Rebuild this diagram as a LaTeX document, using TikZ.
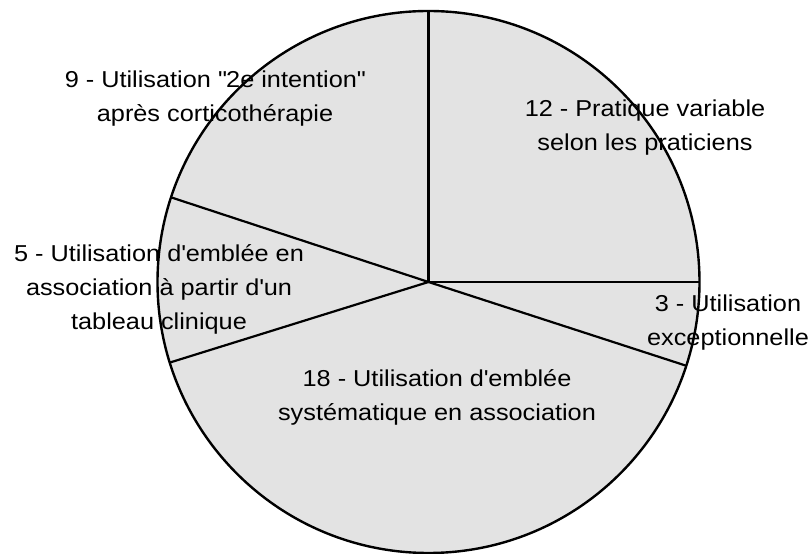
\documentclass[tikz,border=0pt]{standalone}
\usepackage{fontspec}
\setmainfont[FakeStretch=1.1]{Liberation Sans}
\usepackage{tikz}

\begin{document}
\begin{tikzpicture}[x=1pt,y=1pt,
        part/.style={font=\fontsize{23}{34}\selectfont, align=center, inner sep=0pt, anchor=base}]
        \useasboundingbox (0,0) rectangle (812,554);
        \coordinate (c) at (428.5,272);
        \fill[black!11] (c) circle (271);
        \draw[line width=2.2] (c) -- ++(90:271);
        \draw[line width=2.2] (c) -- ++(0:271);
        \draw[line width=2.2] (c) -- ++(-18:271);
        \draw[line width=2.2] (c) -- ++(197.3:271);
        \draw[line width=2.2] (c) -- ++(161.8:271);
        \draw[line width=2.4] (c) circle (271);
        \node[part] (pratique) at (645,403.5) {12 - Pratique variable\\selon les praticiens};
        \node[part] (exception) at (728,208) {3 - Utilisation\\exceptionnelle};
        \node[part] (systematique) at (437,133) {18 - Utilisation d\textquotesingle emblée\\systématique en association};
        \node[part] (tableau) at (159,224) {5 - Utilisation d\textquotesingle emblée en\\association à partir d\textquotesingle un\\tableau clinique};
        \node[part] (intention) at (215,432) {9 - Utilisation \textquotedbl 2e intention\textquotedbl\\après corticothérapie};
    \end{tikzpicture}
\end{document}
